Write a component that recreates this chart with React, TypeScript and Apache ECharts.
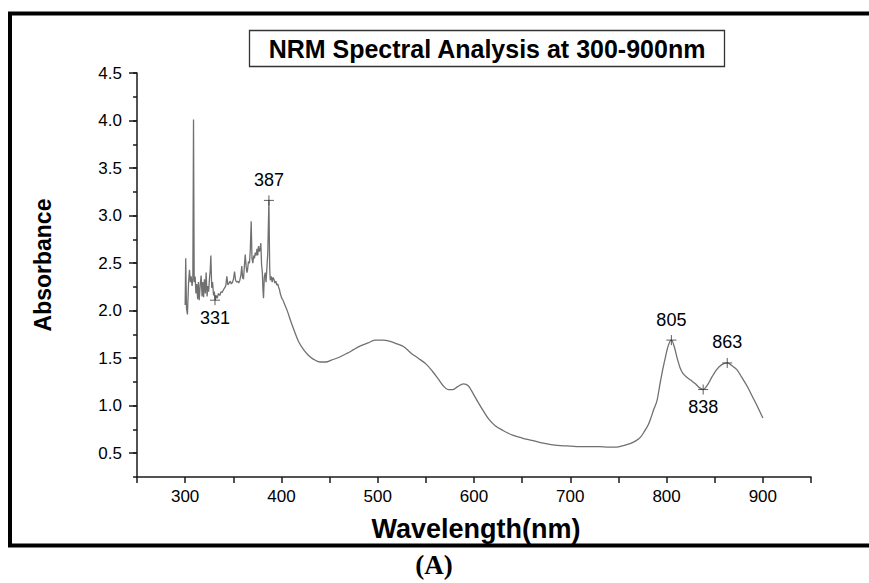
import React, { useEffect, useRef } from "react";
import * as echarts from "echarts";

// Noisy UV region (300-402 nm)
const noisyWl = [
  300, 300.6, 301.4, 302.4, 303.5, 304.5, 305.4, 306.2, 307.2, 308.0, 308.7, 309.4, 310.4, 311.2, 312.1, 313.0,
  313.8, 314.6, 315.6, 316.6, 317.6, 318.4, 319.2, 320.0, 321.0, 321.8, 322.8, 323.6, 324.4, 325.2, 326.0, 326.7,
  327.6, 328.5, 329.5, 330.3, 331.2, 332.2, 333.2, 334.6, 336.0, 337.2, 338.4, 339.8, 341.0, 342.2, 343.3, 344.4,
  345.6, 346.8, 348.0, 349.2, 350.2, 351.3, 352.4, 353.6, 354.6, 355.6, 356.8, 358.0, 358.8, 359.6, 360.6, 361.6,
  362.4, 363.4, 364.2, 364.8, 365.8, 366.8, 367.6, 368.6, 369.4, 370.3, 371.2, 372.0, 372.8, 373.8, 374.6, 375.4,
  376.2, 377.2, 378.0, 378.6, 379.4, 380.2, 380.8, 381.4, 382.2, 383.2, 384.0, 384.9, 385.8, 387.0, 387.8, 388.4,
  389.4, 390.4, 391.2, 392.2, 393.2, 394.2, 395.2, 396.2, 397.0, 398.0, 398.8, 400.0, 401.0, 402.2,
];
const noisyAbs = [
  2.06, 2.55, 2.02, 1.96, 2.28, 2.43, 2.3, 2.36, 2.26, 2.34, 4.01, 2.3, 2.36, 2.18, 2.28, 2.12,
  2.3, 2.11, 2.26, 2.37, 2.15, 2.3, 2.14, 2.33, 2.18, 2.4, 2.15, 2.26, 2.2, 2.33, 2.42, 2.58,
  2.24, 2.3, 2.16, 2.2, 2.11, 2.16, 2.13, 2.18, 2.16, 2.2, 2.19, 2.22, 2.24, 2.26, 2.36, 2.27,
  2.29, 2.31, 2.28, 2.3, 2.33, 2.41, 2.32, 2.3, 2.31, 2.29, 2.32, 2.38, 2.47, 2.35, 2.33, 2.48,
  2.59, 2.46, 2.4, 2.43, 2.52, 2.5, 2.62, 2.94, 2.55, 2.5, 2.58, 2.55, 2.61, 2.58, 2.65, 2.58,
  2.68, 2.62, 2.66, 2.71, 2.48, 2.4, 2.22, 2.13, 2.35, 2.4, 2.3, 2.45, 2.6, 3.16, 2.45, 2.32,
  2.36, 2.3, 2.35, 2.33, 2.29, 2.31, 2.27, 2.28, 2.25, 2.22, 2.18, 2.14, 2.12, 2.1,
];

// Smooth visible/NIR region (402-900 nm)
const smoothWl = [
  402, 406, 410, 414, 418, 423, 428, 433, 440, 446, 452, 460, 468, 475, 482, 490, 497, 505, 512, 520,
  527, 535, 542, 550, 557, 563, 568, 573, 578, 583, 589, 594, 599, 604, 610, 616, 622, 630, 640, 650,
  660, 670, 680, 690, 700, 710, 720, 730, 740, 748, 755, 762, 768, 773, 777, 781, 784, 787, 790, 793,
  796, 799, 802, 805, 808, 811, 814, 817, 821, 825, 830, 834, 838, 842, 847, 852, 857, 863, 868, 873,
  878, 884, 889, 894, 900,
];
const smoothAbs = [
  2.1, 2.0, 1.88, 1.77, 1.67, 1.59, 1.53, 1.49, 1.46, 1.46, 1.48, 1.51, 1.55, 1.59, 1.63, 1.66, 1.69, 1.69, 1.68, 1.65,
  1.62, 1.55, 1.5, 1.44, 1.36, 1.28, 1.21, 1.17, 1.17, 1.2, 1.23, 1.21, 1.13, 1.04, 0.94, 0.85, 0.79, 0.74, 0.69, 0.66,
  0.635, 0.61, 0.59, 0.58, 0.575, 0.57, 0.57, 0.57, 0.565, 0.565, 0.58, 0.6, 0.63, 0.67, 0.73, 0.8, 0.88, 0.97, 1.05, 1.22,
  1.38, 1.52, 1.64, 1.69, 1.62, 1.5, 1.4, 1.34, 1.3, 1.27, 1.23, 1.19, 1.17, 1.21, 1.3, 1.38, 1.43, 1.45, 1.42, 1.38,
  1.3, 1.2, 1.1, 1.0, 0.87,
];

// Annotated peaks / valleys
const peakNames = ["331", "387", "805", "838", "863"];
const peakWl = [331, 387, 805, 838, 863];
const peakAbs = [2.11, 3.16, 1.69, 1.17, 1.45];
const valleyNames = ["331", "838"];

const xTickLabels = [300, 400, 500, 600, 700, 800, 900];
const yTickLabels = [0.5, 1.0, 1.5, 2.0, 2.5, 3.0, 3.5, 4.0, 4.5];

const TITLE = "NRM Spectral Analysis at 300-900nm";
const X_NAME = "Wavelength(nm)";
const Y_NAME = "Absorbance";
const CAPTION = "(A)";

const SANS = "'Liberation Sans', Arial, Helvetica, sans-serif";
const SERIF = "'Liberation Serif', 'Times New Roman', serif";

export default function App() {
  const ref = useRef<HTMLDivElement>(null);

  useEffect(() => {
    document.body.style.margin = "0";
    if (!ref.current) return;
    const chart = echarts.init(ref.current, null, { renderer: "svg" });

    const lineColor = "#707070";
    const axisColor = "#1a1a1a";

    const option: any = {
      animation: false,
      backgroundColor: "#ffffff",
      grid: { left: 137, right: 58, top: 73, bottom: 106, containLabel: false },
      xAxis: {
        type: "value",
        min: 250,
        max: 950,
        interval: 50,
        axisLine: { show: true, lineStyle: { color: axisColor, width: 1.5 } },
        axisTick: { show: true, inside: false, length: 6, lineStyle: { color: axisColor, width: 1.5 } },
        splitLine: { show: false },
        axisLabel: {
          show: true,
          margin: 11,
          color: "#000",
          fontSize: 17,
          fontFamily: SANS,
          formatter: (v: number) => (xTickLabels.indexOf(v) >= 0 ? String(v) : ""),
        },
      },
      yAxis: [
        {
          type: "value",
          min: 0.25,
          max: 4.5,
          interval: 0.25,
          axisLine: { show: true, lineStyle: { color: axisColor, width: 1.5 } },
          axisTick: { show: true, inside: false, length: 4, lineStyle: { color: axisColor, width: 1.5 } },
          splitLine: { show: false },
          axisLabel: {
            show: true,
            margin: 15,
            color: "#000",
            fontSize: 17,
            fontFamily: SANS,
            formatter: (v: number) => {
              const hit = yTickLabels.find((t) => Math.abs(t - v) < 1e-6);
              return hit !== undefined ? hit.toFixed(1) : "";
            },
          },
        },
        {
          type: "value",
          min: 0.25,
          max: 4.5,
          position: "left",
          axisLine: { show: false },
          axisTick: {
            show: true,
            inside: false,
            length: 8,
            customValues: yTickLabels,
            lineStyle: { color: axisColor, width: 1.5 },
          },
          axisLabel: { show: false },
          splitLine: { show: false },
        },
      ],
      series: [
        {
          type: "line",
          yAxisIndex: 0,
          data: noisyWl.map((w, i) => [w, noisyAbs[i]]),
          showSymbol: false,
          smooth: false,
          lineStyle: { color: lineColor, width: 1.3 },
          z: 3,
        },
        {
          type: "line",
          yAxisIndex: 0,
          data: smoothWl.map((w, i) => [w, smoothAbs[i]]),
          showSymbol: false,
          smooth: 0.35,
          lineStyle: { color: lineColor, width: 1.3 },
          z: 3,
        },
        {
          type: "scatter",
          yAxisIndex: 0,
          symbol: "path://M5 0 L5 10 M0 5 L10 5",
          symbolSize: 10,
          itemStyle: { color: "none", borderColor: "#333", borderWidth: 1 },
          data: peakNames.map((n, i) => {
            const below = valleyNames.indexOf(n) >= 0;
            return {
              name: n,
              value: [peakWl[i], peakAbs[i]],
              label: {
                show: true,
                position: below ? "bottom" : "top",
                distance: below ? 1 : 4,
                formatter: n,
                color: "#000",
                opacity: 1,
                fontSize: 18,
                fontFamily: SANS,
              },
            };
          }),
          emphasis: { disabled: true },
          z: 4,
        },
      ],
      graphic: [
        {
          type: "rect",
          shape: { x: 10, y: 13.5, width: 900, height: 532 },
          style: { fill: "none", stroke: "#000", lineWidth: 4 },
          silent: true,
          z: 10,
        },
        {
          type: "rect",
          shape: { x: 249.5, y: 30.5, width: 475, height: 36 },
          style: { fill: "#fff", stroke: "#333", lineWidth: 1.3 },
          silent: true,
          z: 10,
        },
        {
          type: "text",
          x: 487,
          y: 48.5,
          style: {
            text: TITLE,
            fill: "#000",
            font: `bold 25px ${SANS}`,
            textAlign: "center",
            textVerticalAlign: "middle",
          },
          silent: true,
          z: 11,
        },
        {
          type: "text",
          x: 476,
          y: 529,
          style: {
            text: X_NAME,
            fill: "#000",
            font: `bold 27px ${SANS}`,
            textAlign: "center",
            textVerticalAlign: "middle",
          },
          silent: true,
          z: 11,
        },
        {
          type: "text",
          x: 43,
          y: 265,
          rotation: Math.PI / 2,
          style: {
            text: Y_NAME,
            fill: "#000",
            font: `bold 23px ${SANS}`,
            textAlign: "center",
            textVerticalAlign: "middle",
          },
          silent: true,
          z: 11,
        },
        {
          type: "text",
          x: 434,
          y: 565,
          style: {
            text: CAPTION,
            fill: "#000",
            font: `bold 27px ${SERIF}`,
            textAlign: "center",
            textVerticalAlign: "middle",
          },
          silent: true,
          z: 11,
        },
      ],
    };

    chart.setOption(option);
    return () => chart.dispose();
  }, []);

  return <div ref={ref} style={{ width: 869, height: 583 }} />;
}
